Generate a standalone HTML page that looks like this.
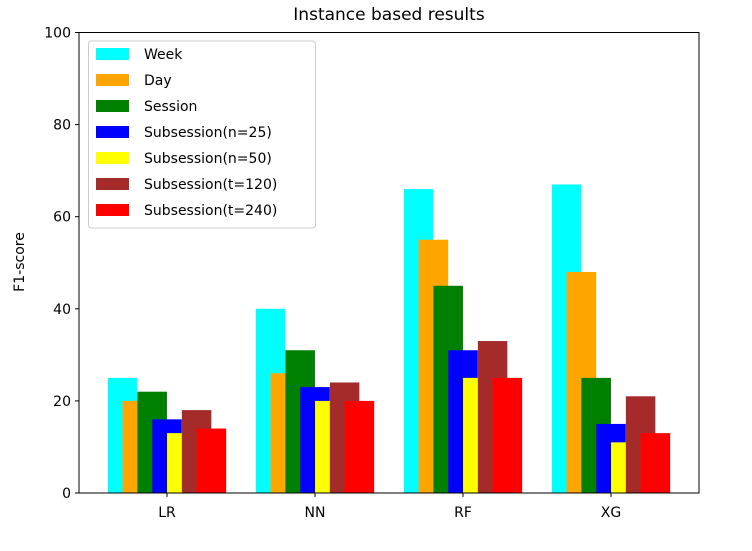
<!DOCTYPE html>
<html><head><meta charset="utf-8"><style>
body{margin:0;background:#fff;font-family:"DejaVu Sans","Liberation Sans",sans-serif;}
</style></head><body>
<svg width="752" height="547" xmlns="http://www.w3.org/2000/svg" font-family="DejaVu Sans, Liberation Sans, sans-serif">
<g id="bars"></g>
<g id="axes"></g>
<g id="legend"></g>
</svg>
<script>
const categories = ["LR","NN","RF","XG"];
const seriesNames = ["Week","Day","Session","Subsession(n=25)","Subsession(n=50)","Subsession(t=120)","Subsession(t=240)"];
const seriesColors = ["#00ffff","#ffa500","#008000","#0000ff","#ffff00","#a52a2a","#ff0000"];
const week = [25,40,66,67];
const day = [20,26,55,48];
const session = [22,31,45,25];
const subN25 = [16,23,31,15];
const subN50 = [13,20,25,11];
const subT120 = [18,24,33,21];
const subT240 = [14,20,25,13];
const yTicks = [0,20,40,60,80,100];
const series = [week,day,session,subN25,subN50,subT120,subT240];

const NS="http://www.w3.org/2000/svg";
const X0=79,X1=699,Y0=493,Y1=32.5;
const y = v => Y0 - (v/100)*(Y0-Y1);
const catX = i => 167 + i*148;
const step=14.8, bw=29.5;
function mk(tag,attrs,parent){const e=document.createElementNS(NS,tag);for(const k in attrs)e.setAttribute(k,attrs[k]);parent.appendChild(e);return e;}
const bars=document.getElementById('bars');
series.forEach((s,si)=>{
  s.forEach((v,ci)=>{
    const cx=catX(ci)+(si-3)*step;
    const r=mk('rect',{x:cx-bw/2,y:y(v),width:bw,height:Y0-y(v),fill:seriesColors[si]},bars);
    
    
  });
});
const ax=document.getElementById('axes');
const frame=mk('rect',{x:X0,y:Y1,width:X1-X0,height:Y0-Y1,fill:'none',stroke:'#000','stroke-width':1},ax);


yTicks.forEach(t=>{
  mk('line',{x1:X0-4,x2:X0,y1:y(t),y2:y(t),stroke:'#000'},ax);
  const tx=mk('text',{x:X0-8,y:y(t)+5,'text-anchor':'end','font-size':14,fill:'#000'},ax);
  tx.textContent=t;
  
  
});
categories.forEach((c,i)=>{
  mk('line',{x1:catX(i),x2:catX(i),y1:Y0,y2:Y0+4,stroke:'#000'},ax);
  const tx=mk('text',{x:catX(i),y:Y0+24,'text-anchor':'middle','font-size':14,fill:'#000'},ax);
  tx.textContent=c;
  
  
});
const title=mk('text',{x:389,y:20,'text-anchor':'middle','font-size':17,fill:'#000'},ax);
title.textContent='Instance based results';


const yl=mk('text',{x:24,y:262,'text-anchor':'middle','font-size':14,fill:'#000',transform:'rotate(-90 24 262)'},ax);
yl.textContent='F1-score';


const lg=document.getElementById('legend');
const box=mk('rect',{x:88.5,y:41,width:227,height:187,rx:3,fill:'#fff','fill-opacity':0.8,stroke:'#ccc'},lg);


seriesNames.forEach((n,i)=>{
  const g=mk('g',{},lg);
  
  
  mk('rect',{x:96,y:48+i*26,width:33,height:12,fill:seriesColors[i]},g);
  const t=mk('text',{x:144,y:59+i*26,'font-size':14,fill:'#000'},g);
  t.textContent=n;
});
</script>
</body></html>
